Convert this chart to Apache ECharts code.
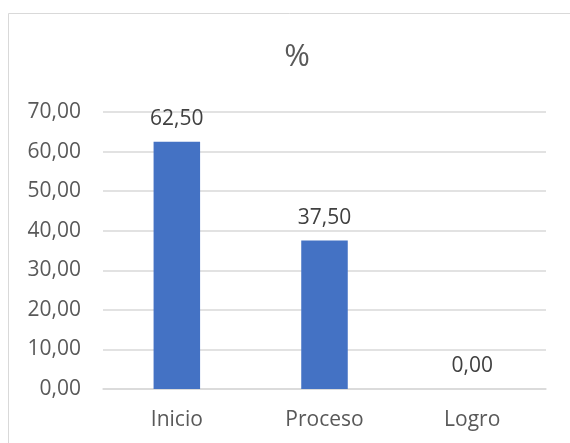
<!DOCTYPE html>
<html>
<head>
<meta charset="utf-8">
<script src="https://cdn.jsdelivr.net/npm/echarts@6/dist/echarts.min.js"></script>
<style>
  html, body { margin: 0; padding: 0; background: #ffffff; }
  #chart { width: 570px; height: 443px; }
</style>
</head>
<body>
<div id="chart"></div>
<script>
// Categories and percentages
const categories = ['Inicio', 'Proceso', 'Logro'];
const percentValues = [62.5, 37.5, 0];
const chartTitle = '%';
const yMin = 0;
const yMax = 70;
const yStep = 10;

const FONT = '"Open Sans", "Noto Sans", sans-serif';
const TEXT_COLOR = '#595959';

// Decimal comma, two decimals
const fmt = v => Number(v).toFixed(2).replace('.', ',');

const chart = echarts.init(document.getElementById('chart'), null, { renderer: 'canvas' });

chart.setOption({
  animation: false,
  backgroundColor: '#ffffff',
  title: {
    text: chartTitle,
    left: 292,
    top: 37,
    textAlign: 'center',
    textStyle: { fontFamily: FONT, fontSize: 31, fontWeight: 'normal', color: TEXT_COLOR }
  },
  graphic: [{
    type: 'rect',
    shape: { x: 8.5, y: 13.5, width: 700, height: 600 },
    style: { fill: 'none', stroke: '#d9d9d9', lineWidth: 1 },
    silent: true
  }],
  grid: { left: 103, right: 24, top: 112, bottom: 54 },
  xAxis: {
    type: 'category',
    data: categories,
    axisLine: { show: true, lineStyle: { color: '#d9d9d9', width: 1.5 } },
    axisTick: { show: false },
    axisLabel: { fontFamily: FONT, fontSize: 21, color: TEXT_COLOR, margin: 21 }
  },
  yAxis: {
    type: 'value',
    min: yMin,
    max: yMax,
    interval: yStep,
    axisLine: { show: false },
    axisTick: { show: false },
    splitLine: { lineStyle: { color: '#d9d9d9', width: 1.5 } },
    axisLabel: { fontFamily: FONT, fontSize: 21, color: TEXT_COLOR, margin: 22, formatter: fmt }
  },
  series: [{
    type: 'bar',
    data: percentValues,
    barWidth: '31.5%',
    itemStyle: { color: '#4472C4' },
    label: {
      show: true,
      position: 'top',
      distance: 12,
      fontFamily: FONT,
      fontSize: 21,
      color: '#404040',
      formatter: p => fmt(p.value)
    }
  }]
});
</script>
</body>
</html>
